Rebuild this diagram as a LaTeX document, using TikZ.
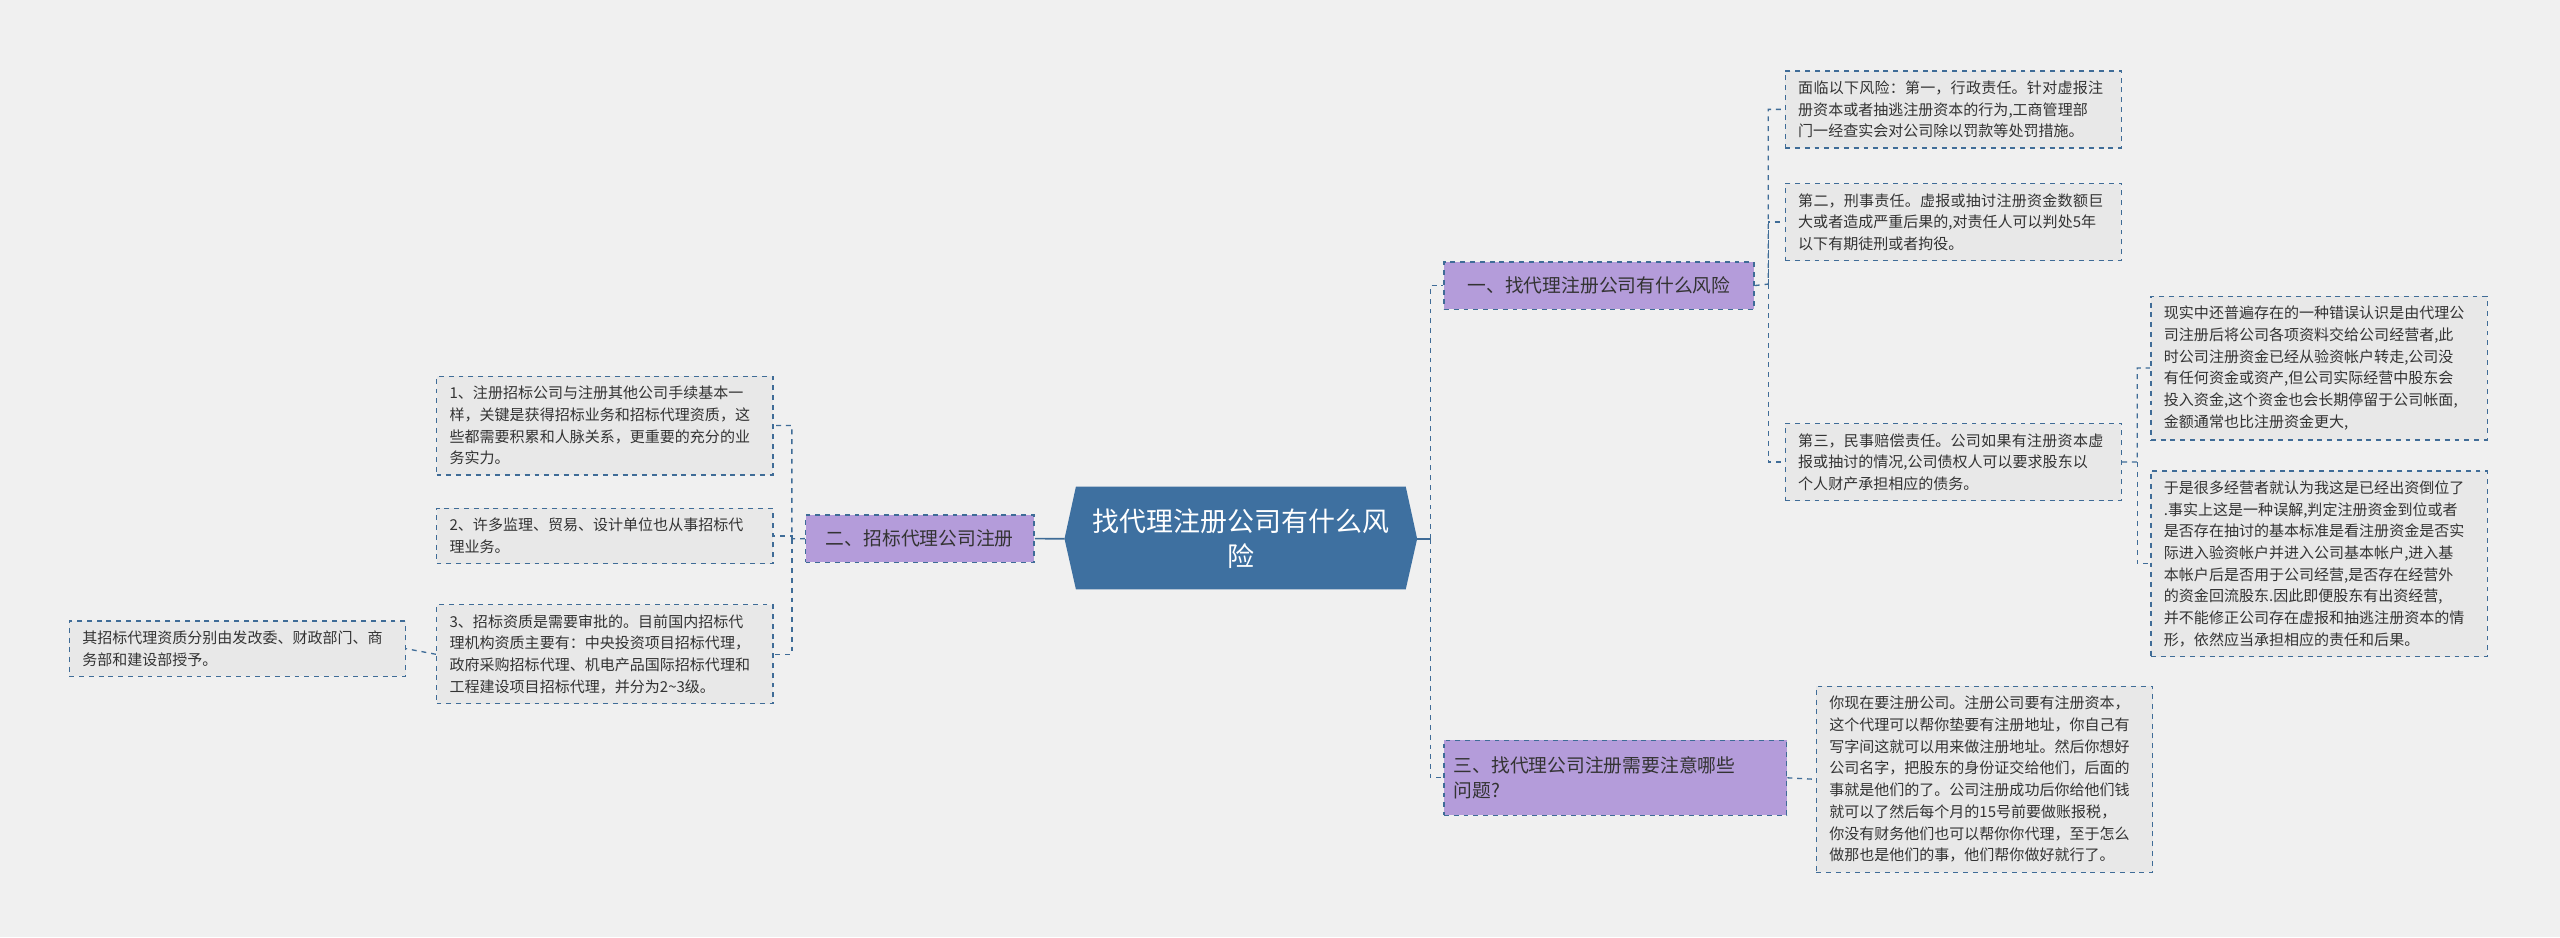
\documentclass[tikz,border=0pt]{standalone}
\usepackage{fontspec}
\setmainfont{Noto Sans CJK SC}
\XeTeXlinebreaklocale "zh"
\XeTeXlinebreakskip=0pt plus 1pt
\begin{document}
\definecolor{bg}{HTML}{F0F0F0}
\definecolor{leaffill}{HTML}{E8E8E8}
\definecolor{bord}{HTML}{3F6C97}
\definecolor{purp}{HTML}{B49CDA}
\definecolor{cen}{HTML}{3E70A0}
\begin{tikzpicture}[x=1pt,y=-1pt,
  leaf/.style={draw=bord,dashed,fill=leaffill,line width=0.8pt,anchor=north west,
    text width=190pt,inner xsep=8pt,inner ysep=6pt,align=left,
    font=\fontsize{9.2}{13.3}\selectfont,text=black!80},
  lvl/.style={draw=bord,dashed,fill=purp,line width=0.8pt,anchor=north west,
    inner xsep=6pt,align=left,font=\fontsize{11.5}{15}\selectfont,text=black!80},
  conn/.style={draw=bord,dashed,line width=0.8pt},
  sconn/.style={draw=bord,line width=1pt}]
\fill[bg] (0,0) rectangle (1568,574);
\useasboundingbox (0,0) rectangle (1568,574);
% center
\fill[cen] (659,298) -- (861,298) -- (868,330) -- (861,361) -- (659,361) -- (652,330) -- cycle;
\node[text=white,align=center,font=\fontsize{16.5}{21}\selectfont] (c) at (760,330) {找代理注册公司有什么风\\险};
\coordinate (cE) at (868,330);
\coordinate (cW) at (652,330);
% level 1
\node[lvl,minimum height=29pt,minimum width=190pt] (A) at (884,160) {一、找代理注册公司有什么风险};
\node[lvl,minimum height=46pt,text width=198pt] (B) at (884,453) {三、找代理公司注册需要注意哪些\\问题?};
\node[lvl,minimum height=29pt,minimum width=140pt] (C) at (493,315) {二、招标代理公司注册};
% leaves of A
\node[leaf] (a1) at (1093,43) {面临以下风险：第一，行政责任。针对虚报注册资本或者抽逃注册资本的行为,工商管理部\\门一经查实会对公司除以罚款等处罚措施。};
\node[leaf] (a2) at (1093,112) {第二，刑事责任。虚报或抽讨注册资金数额巨大或者造成严重后果的,对责任人可以判处5年\\以下有期徒刑或者拘役。};
\node[leaf] (a3) at (1093,259) {第三，民事赔偿责任。公司如果有注册资本虚报或抽讨的情况,公司债权人可以要求股东以\\个人财产承担相应的债务。};
\node[leaf] (b1) at (1317,181) {现实中还普遍存在的一种错误认识是由代理公\\司注册后将公司各项资料交给公司经营者,此\\时公司注册资金已经从验资帐户转走,公司没\\有任何资金或资产,但公司实际经营中股东会\\投入资金,这个资金也会长期停留于公司帐面,\\金额通常也比注册资金更大,};
\node[leaf] (b2) at (1317,288) {于是很多经营者就认为我这是已经出资倒位了\\.事实上这是一种误解,判定注册资金到位或者\\是否存在抽讨的基本标准是看注册资金是否实\\际进入验资帐户并进入公司基本帐户,进入基\\本帐户后是否用于公司经营,是否存在经营外\\的资金回流股东.因此即便股东有出资经营,\\并不能修正公司存在虚报和抽逃注册资本的情\\形，依然应当承担相应的责任和后果。};
\node[leaf] (d1) at (1112,420) {你现在要注册公司。注册公司要有注册资本，\\这个代理可以帮你垫要有注册地址，你自己有\\写字间这就可以用来做注册地址。然后你想好\\公司名字，把股东的身份证交给他们，后面的\\事就是他们的了。公司注册成功后你给他们钱\\就可以了然后每个月的15号前要做账报税，\\你没有财务他们也可以帮你你代理，至于怎么\\做那也是他们的事，他们帮你做好就行了。};
% leaves of C
\node[leaf] (c1) at (267,230) {1、注册招标公司与注册其他公司手续基本一\\样，关键是获得招标业务和招标代理资质，这\\些都需要积累和人脉关系，更重要的充分的业\\务实力。};
\node[leaf] (c2) at (267,311) {2、许多监理、贸易、设计单位也从事招标代\\理业务。};
\node[leaf] (c3) at (267,370) {3、招标资质是需要审批的。目前国内招标代\\理机构资质主要有：中央投资项目招标代理，\\政府采购招标代理、机电产品国际招标代理和\\工程建设项目招标代理，并分为2\textasciitilde 3级。};
\node[leaf] (e1) at (42,380) {其招标代理资质分别由发改委、财政部门、商\\务部和建设部授予。};
% connectors
\draw[sconn] (cE) -- (876,330);
\draw[conn] (876,330) |- (A.west);
\draw[conn] (876,330) |- (B.west);
\draw[sconn] (cW) -- (C.east);
\draw[conn] (A.east) -- (1083,174) |- (a1.west);
\draw[conn] (1083,174) |- (a2.west);
\draw[conn] (1083,174) |- (a3.west);
\draw[conn] (a3.east) -- (1309,283) |- (b1.west);
\draw[conn] (1309,283) |- (b2.west);
\draw[conn] (B.east) -- (d1.west);
\draw[conn] (C.west) -- (485,330) |- (c1.east);
\draw[conn] (485,330) |- (c2.east);
\draw[conn] (485,330) |- (c3.east);
\draw[conn] (c3.west) -- (e1.east);
\end{tikzpicture}
\end{document}
